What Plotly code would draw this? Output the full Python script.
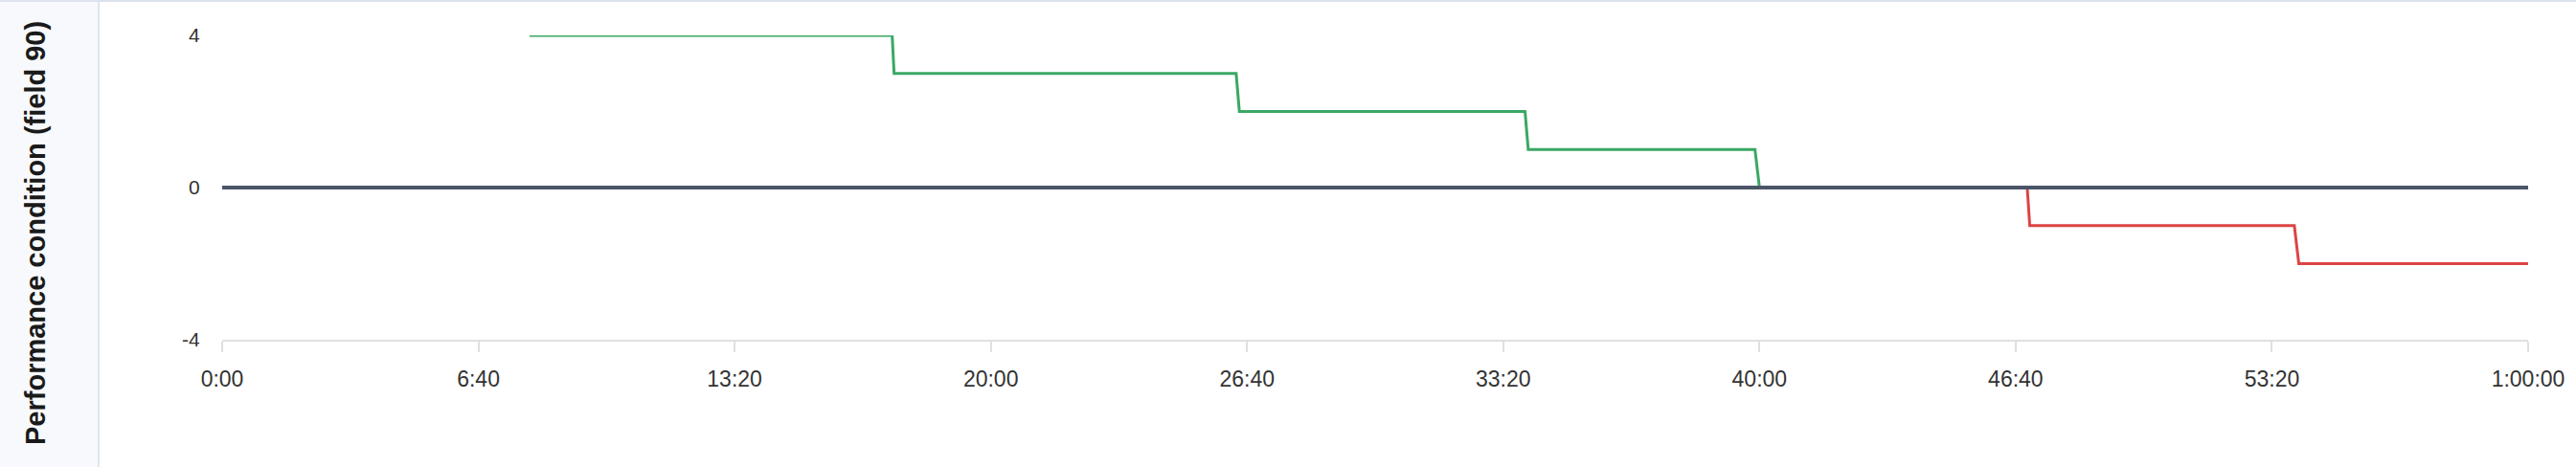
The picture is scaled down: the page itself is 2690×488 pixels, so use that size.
import plotly.graph_objects as go

# performance condition over the hour (seconds from start)
pos_time = [480, 1046, 1049, 1583, 1588, 2034, 2039, 2393, 2400]
pos_value = [4, 4, 3, 3, 2, 2, 1, 1, 0]

neg_time = [2400, 2818, 2822, 3235, 3242, 3600]
neg_value = [0, 0, -1, -1, -2, -2]

baseline_time = [0, 3600]
baseline_value = [0, 0]

x_ticks = [0, 400, 800, 1200, 1600, 2000, 2400, 2800, 3200, 3600]
y_ticks = [-4, 0, 4]


def fmt(sec):
    h, rem = divmod(sec, 3600)
    m, s = divmod(rem, 60)
    if h:
        return "%d:%02d:%02d" % (h, m, s)
    return "%d:%02d" % (m, s)


x_labels = [fmt(t) for t in x_ticks]
y_labels = [str(v) for v in y_ticks]

W, H = 2690, 488
L, R, T, B = 232, 50, 37, 133
pw, ph = W - L - R, H - T - B


def px(x):
    return (x - L) / pw


def py(y):
    return (H - B - y) / ph


fig = go.Figure()
fig.add_trace(go.Scatter(x=pos_time, y=pos_value, mode="lines",
                         line=dict(color="#3aa863", width=3)))
fig.add_trace(go.Scatter(x=neg_time, y=neg_value, mode="lines",
                         line=dict(color="#dc4444", width=3)))
fig.add_trace(go.Scatter(x=baseline_time, y=baseline_value, mode="lines",
                         line=dict(color="#4a5568", width=4)))

# left side panel and borders
fig.add_shape(type="rect", xref="paper", yref="paper", layer="below",
              x0=px(0), x1=px(103), y0=py(H), y1=py(0),
              fillcolor="#f7f9fc", line_width=0)
fig.add_shape(type="line", xref="paper", yref="paper",
              x0=px(103), x1=px(103), y0=py(H), y1=py(2),
              line=dict(color="#dfe6f0", width=2))
fig.add_shape(type="line", xref="paper", yref="paper",
              x0=px(0), x1=px(W), y0=py(1), y1=py(1),
              line=dict(color="#dde3ee", width=2))

fig.add_annotation(text="<b>Performance condition (field 90)</b>",
                   xref="paper", yref="paper", x=px(37), y=py(244),
                   textangle=-90, showarrow=False,
                   xanchor="center", yanchor="middle",
                   font=dict(family="Liberation Sans", size=29, color="#1a1a1a"))

fig.update_layout(
    width=W, height=H,
    margin=dict(l=L, r=R, t=T, b=B),
    plot_bgcolor="white", paper_bgcolor="white",
    showlegend=False, hovermode=False,
    font=dict(family="Liberation Sans", color="#333333"),
)
fig.update_xaxes(range=[0, 3600], tickvals=x_ticks, ticktext=x_labels,
                 showgrid=False, zeroline=False,
                 showline=True, linecolor="#e0e0e0", linewidth=2,
                 ticks="outside", ticklen=11, tickwidth=2, tickcolor="#e0e0e0",
                 ticklabelstandoff=8,
                 tickfont=dict(size=23, color="#333333"))
fig.update_yaxes(range=[-4, 4], tickvals=y_ticks, ticktext=y_labels,
                 showgrid=True, gridcolor="#e3e3e3", gridwidth=2, griddash="dash",
                 zeroline=False, showline=False,
                 ticks="outside", ticklen=18, tickcolor="rgba(0,0,0,0)",
                 tickfont=dict(size=21, color="#333333"))

fig.write_html("out.html", config={"displayModeBar": False},
               post_script="document.body.style.margin='0';document.body.style.overflow='hidden';")
